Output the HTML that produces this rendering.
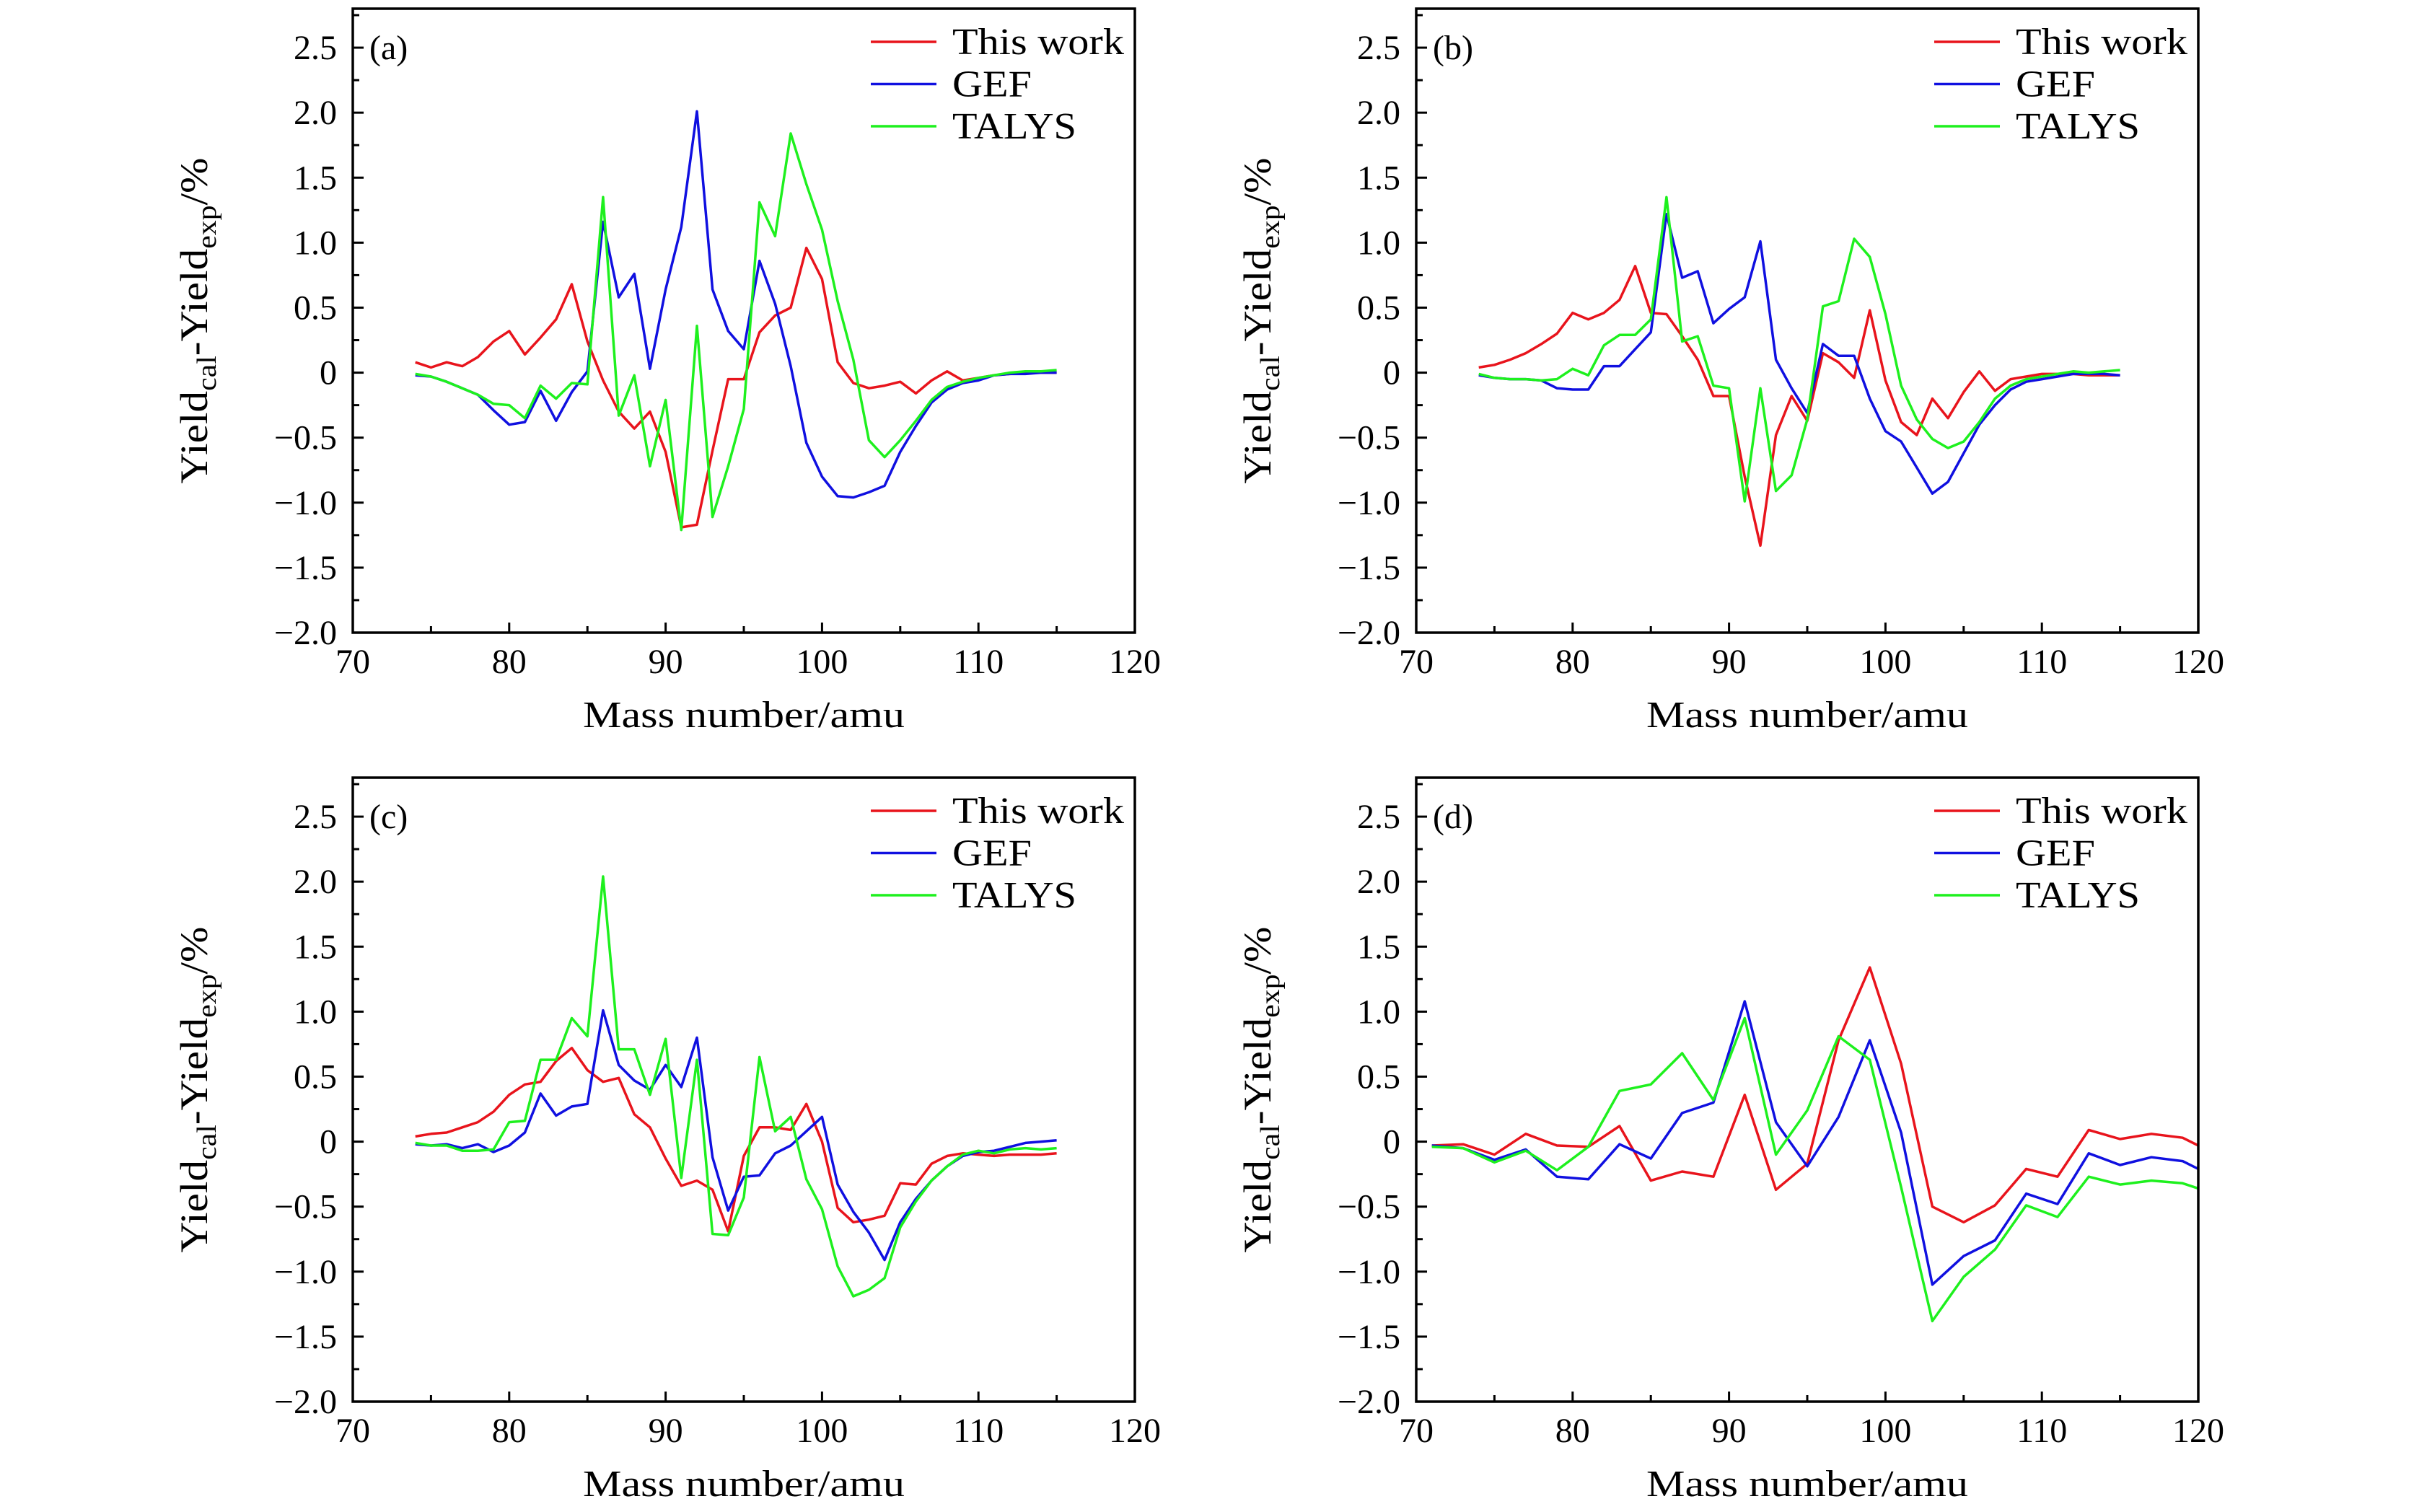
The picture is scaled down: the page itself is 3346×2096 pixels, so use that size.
<!DOCTYPE html>
<html><head><meta charset="utf-8"><style>
html,body{margin:0;padding:0;background:#fff;}
svg{display:block;font-family:"Liberation Serif",serif;}
</style></head><body>
<svg id="fig" width="3346" height="2096" viewBox="0 0 3346 2096" xmlns="http://www.w3.org/2000/svg"></svg>
<script>
const massA = [74,75,76,77,78,79,80,81,82,83,84,85,86,87,88,89,90,91,92,93,94,95,96,97,98,99,100,101,102,103,104,105,106,107,108,109,110,111,112,113,114,115];
const aThisWork = [0.08,0.04,0.08,0.05,0.12,0.24,0.32,0.14,0.27,0.41,0.68,0.24,-0.06,-0.30,-0.43,-0.30,-0.61,-1.19,-1.17,-0.60,-0.05,-0.05,0.31,0.44,0.50,0.96,0.72,0.08,-0.08,-0.12,-0.10,-0.07,-0.16,-0.06,0.01,-0.06,-0.04,-0.02,-0.01,0,0,0];
const aGEF = [-0.02,-0.03,-0.07,-0.12,-0.17,-0.29,-0.40,-0.38,-0.14,-0.37,-0.15,0.01,1.16,0.58,0.76,0.03,0.64,1.12,2.01,0.64,0.32,0.18,0.86,0.53,0.05,-0.54,-0.80,-0.95,-0.96,-0.92,-0.87,-0.61,-0.41,-0.23,-0.13,-0.08,-0.06,-0.02,-0.01,-0.01,0,0];
const aTALYS = [-0.01,-0.03,-0.07,-0.12,-0.17,-0.24,-0.25,-0.35,-0.10,-0.20,-0.08,-0.09,1.35,-0.33,-0.02,-0.72,-0.21,-1.21,0.36,-1.11,-0.72,-0.28,1.31,1.05,1.84,1.45,1.10,0.55,0.10,-0.52,-0.65,-0.52,-0.37,-0.21,-0.11,-0.07,-0.04,-0.02,0,0.01,0.01,0.02];
const bThisWork = [0.04,0.06,0.10,0.15,0.22,0.30,0.46,0.41,0.46,0.56,0.82,0.46,0.45,0.28,0.10,-0.18,-0.18,-0.80,-1.33,-0.48,-0.18,-0.37,0.15,0.08,-0.04,0.48,-0.06,-0.38,-0.48,-0.20,-0.35,-0.15,0.01,-0.14,-0.05,-0.03,-0.01,-0.01,-0.01,-0.02,-0.02,-0.02];
const bGEF = [-0.02,-0.04,-0.05,-0.05,-0.06,-0.12,-0.13,-0.13,0.05,0.05,0.18,0.31,1.22,0.73,0.78,0.38,0.49,0.58,1.01,0.10,-0.12,-0.31,0.22,0.13,0.13,-0.20,-0.45,-0.53,-0.73,-0.93,-0.84,-0.62,-0.40,-0.25,-0.13,-0.07,-0.05,-0.03,-0.01,-0.01,-0.01,-0.02];
const bTALYS = [-0.01,-0.04,-0.05,-0.05,-0.06,-0.05,0.03,-0.02,0.21,0.29,0.29,0.41,1.35,0.24,0.28,-0.10,-0.12,-0.99,-0.12,-0.91,-0.79,-0.36,0.51,0.55,1.03,0.89,0.45,-0.10,-0.36,-0.51,-0.58,-0.53,-0.38,-0.20,-0.10,-0.05,-0.03,-0.01,0.01,0,0.01,0.02];
const cThisWork = [0.04,0.06,0.07,0.11,0.15,0.23,0.36,0.44,0.46,0.62,0.72,0.55,0.46,0.49,0.21,0.11,-0.13,-0.34,-0.30,-0.37,-0.69,-0.11,0.11,0.11,0.09,0.29,0,-0.51,-0.62,-0.60,-0.57,-0.32,-0.33,-0.17,-0.11,-0.09,-0.10,-0.11,-0.10,-0.10,-0.10,-0.09];
const cGEF = [-0.02,-0.03,-0.02,-0.05,-0.02,-0.08,-0.03,0.07,0.37,0.20,0.27,0.29,1.01,0.59,0.47,0.40,0.59,0.42,0.80,-0.12,-0.53,-0.27,-0.26,-0.09,-0.03,0.08,0.19,-0.33,-0.54,-0.70,-0.91,-0.62,-0.44,-0.30,-0.19,-0.11,-0.08,-0.07,-0.04,-0.01,0,0.01];
const cTALYS = [-0.01,-0.03,-0.03,-0.07,-0.07,-0.06,0.15,0.16,0.63,0.63,0.95,0.81,2.04,0.71,0.71,0.36,0.79,-0.28,0.63,-0.71,-0.72,-0.43,0.65,0.08,0.19,-0.29,-0.52,-0.96,-1.19,-1.14,-1.05,-0.66,-0.46,-0.30,-0.19,-0.10,-0.07,-0.09,-0.06,-0.05,-0.06,-0.05];
const massD = [71,73,75,77,79,81,83,85,87,89,91,93,95,97,99,101,103,105,107,109,111,113,115,117,119,121];
const dThisWork = [-0.03,-0.02,-0.10,0.06,-0.03,-0.04,0.12,-0.30,-0.23,-0.27,0.36,-0.37,-0.17,0.78,1.34,0.60,-0.50,-0.62,-0.49,-0.21,-0.27,0.09,0.02,0.06,0.03,-0.09];
const dGEF = [-0.03,-0.05,-0.14,-0.06,-0.27,-0.29,-0.02,-0.13,0.22,0.30,1.08,0.15,-0.19,0.19,0.78,0.07,-1.10,-0.88,-0.76,-0.40,-0.48,-0.09,-0.18,-0.12,-0.15,-0.27];
const dTALYS = [-0.04,-0.05,-0.16,-0.07,-0.22,-0.04,0.39,0.44,0.68,0.32,0.95,-0.10,0.24,0.81,0.63,-0.35,-1.38,-1.04,-0.83,-0.49,-0.58,-0.27,-0.33,-0.30,-0.32,-0.40];
const xTicks = [70,80,90,100,110,120];
const xTickLabels = ["70","80","90","100","110","120"];
const yTicks = [2.5,2.0,1.5,1.0,0.5,0,-0.5,-1.0,-1.5,-2.0];
const yTickLabels = ["2.5","2.0","1.5","1.0","0.5","0","\u22120.5","\u22121.0","\u22121.5","\u22122.0"];
const seriesNames = ["This work","GEF","TALYS"];
const seriesColors = ["#e8141c","#1010e0","#1ef01e"];

const NS="http://www.w3.org/2000/svg";
const svg=document.getElementById('fig');
function mk(tag,attrs,parent){const e=document.createElementNS(NS,tag);for(const k in attrs)e.setAttribute(k,attrs[k]);(parent||svg).appendChild(e);return e;}
const W=1084,H=865,XMIN=70,XMAX=120,YMIN=-2.0,YMAX=2.8;

function panel(ox,oy,label,xs,series,id){
  const g=mk('g',{});
  
  
  const sx=v=>ox+(v-XMIN)/(XMAX-XMIN)*W;
  const sy=v=>oy+(YMAX-v)/(YMAX-YMIN)*H;
  const cid='clip-'+id;
  const cp=mk('clipPath',{id:cid},g);mk('rect',{x:ox,y:oy,width:W,height:H},cp);
  // series
  series.forEach((vals,i)=>{
    const pts=xs.map((x,j)=>sx(x).toFixed(1)+','+sy(vals[j]).toFixed(1)).join(' ');
    const pl=mk('polyline',{points:pts,fill:'none',stroke:seriesColors[i],'stroke-width':3.5,'stroke-linejoin':'round','clip-path':'url(#'+cid+')'},g);
    
    
  });
  // frame
  const fr=mk('rect',{x:ox,y:oy,width:W,height:H,fill:'none',stroke:'#000','stroke-width':3.5},g);
  
  
  // x ticks
  for(let v=XMIN;v<=XMAX;v+=5){
    const major=v%10===0;
    mk('line',{x1:sx(v),x2:sx(v),y1:oy+H,y2:oy+H-(major?14:9),stroke:'#000','stroke-width':3},g);
  }
  xTicks.forEach((v,i)=>{
    const t=mk('text',{x:sx(v),y:oy+H+56,'font-size':48,'text-anchor':'middle'},g);
    t.textContent=xTickLabels[i];
    
    
  });
  // y ticks
  for(let k=0;k<=19;k++){
    const v=-2.0+k*0.25;
    if(v>YMAX)break;
    const major=k%2===0;
    mk('line',{x1:ox,x2:ox+(major?15:9),y1:sy(v),y2:sy(v),stroke:'#000','stroke-width':3},g);
  }
  yTicks.forEach((v,i)=>{
    const t=mk('text',{x:ox-22,y:sy(v)+16,'font-size':48,'text-anchor':'end'},g);
    t.textContent=yTickLabels[i];
    
    
  });
  // panel label
  const pl=mk('text',{x:ox+23,y:oy+70,'font-size':48},g);
  pl.textContent=label;
  
  
  // legend
  const widths=[238,110,172];
  seriesNames.forEach((n,i)=>{
    const ly=oy+46+i*58.5;
    const lg=mk('g',{},g);
    
    
    mk('line',{x1:ox+718,x2:ox+809,y1:ly,y2:ly,stroke:seriesColors[i],'stroke-width':3.5},lg);
    const t=mk('text',{x:ox+831,y:ly+17,'font-size':52,textLength:widths[i],lengthAdjust:'spacingAndGlyphs'},lg);
    t.textContent=n;
  });
  // x title
  const xt=mk('text',{x:ox+W/2,y:oy+H+131,'font-size':52,'text-anchor':'middle',textLength:446,lengthAdjust:'spacingAndGlyphs'},g);
  xt.textContent='Mass number/amu';
  
  
  // y title
  const cx=ox-202, cy=oy+H/2;
  const yt=mk('text',{x:cx,y:cy,'font-size':54,'text-anchor':'middle',transform:'rotate(-90 '+cx+' '+cy+')',textLength:452,lengthAdjust:'spacingAndGlyphs'},g);
  
  
  const parts=[['Yield',0,54],['cal',12,38],['-Yield',-12,54],['exp',12,38],['/%',-12,54]];
  parts.forEach(p=>{const s=mk('tspan',{dy:p[1],'font-size':p[2]},yt);s.textContent=p[0];});
}
panel(489,12,'(a)',massA,[aThisWork,aGEF,aTALYS],'a');
panel(1963,12,'(b)',massA,[bThisWork,bGEF,bTALYS],'b');
panel(489,1078,'(c)',massA,[cThisWork,cGEF,cTALYS],'c');
panel(1963,1078,'(d)',massD,[dThisWork,dGEF,dTALYS],'d');
</script>
</body></html>
